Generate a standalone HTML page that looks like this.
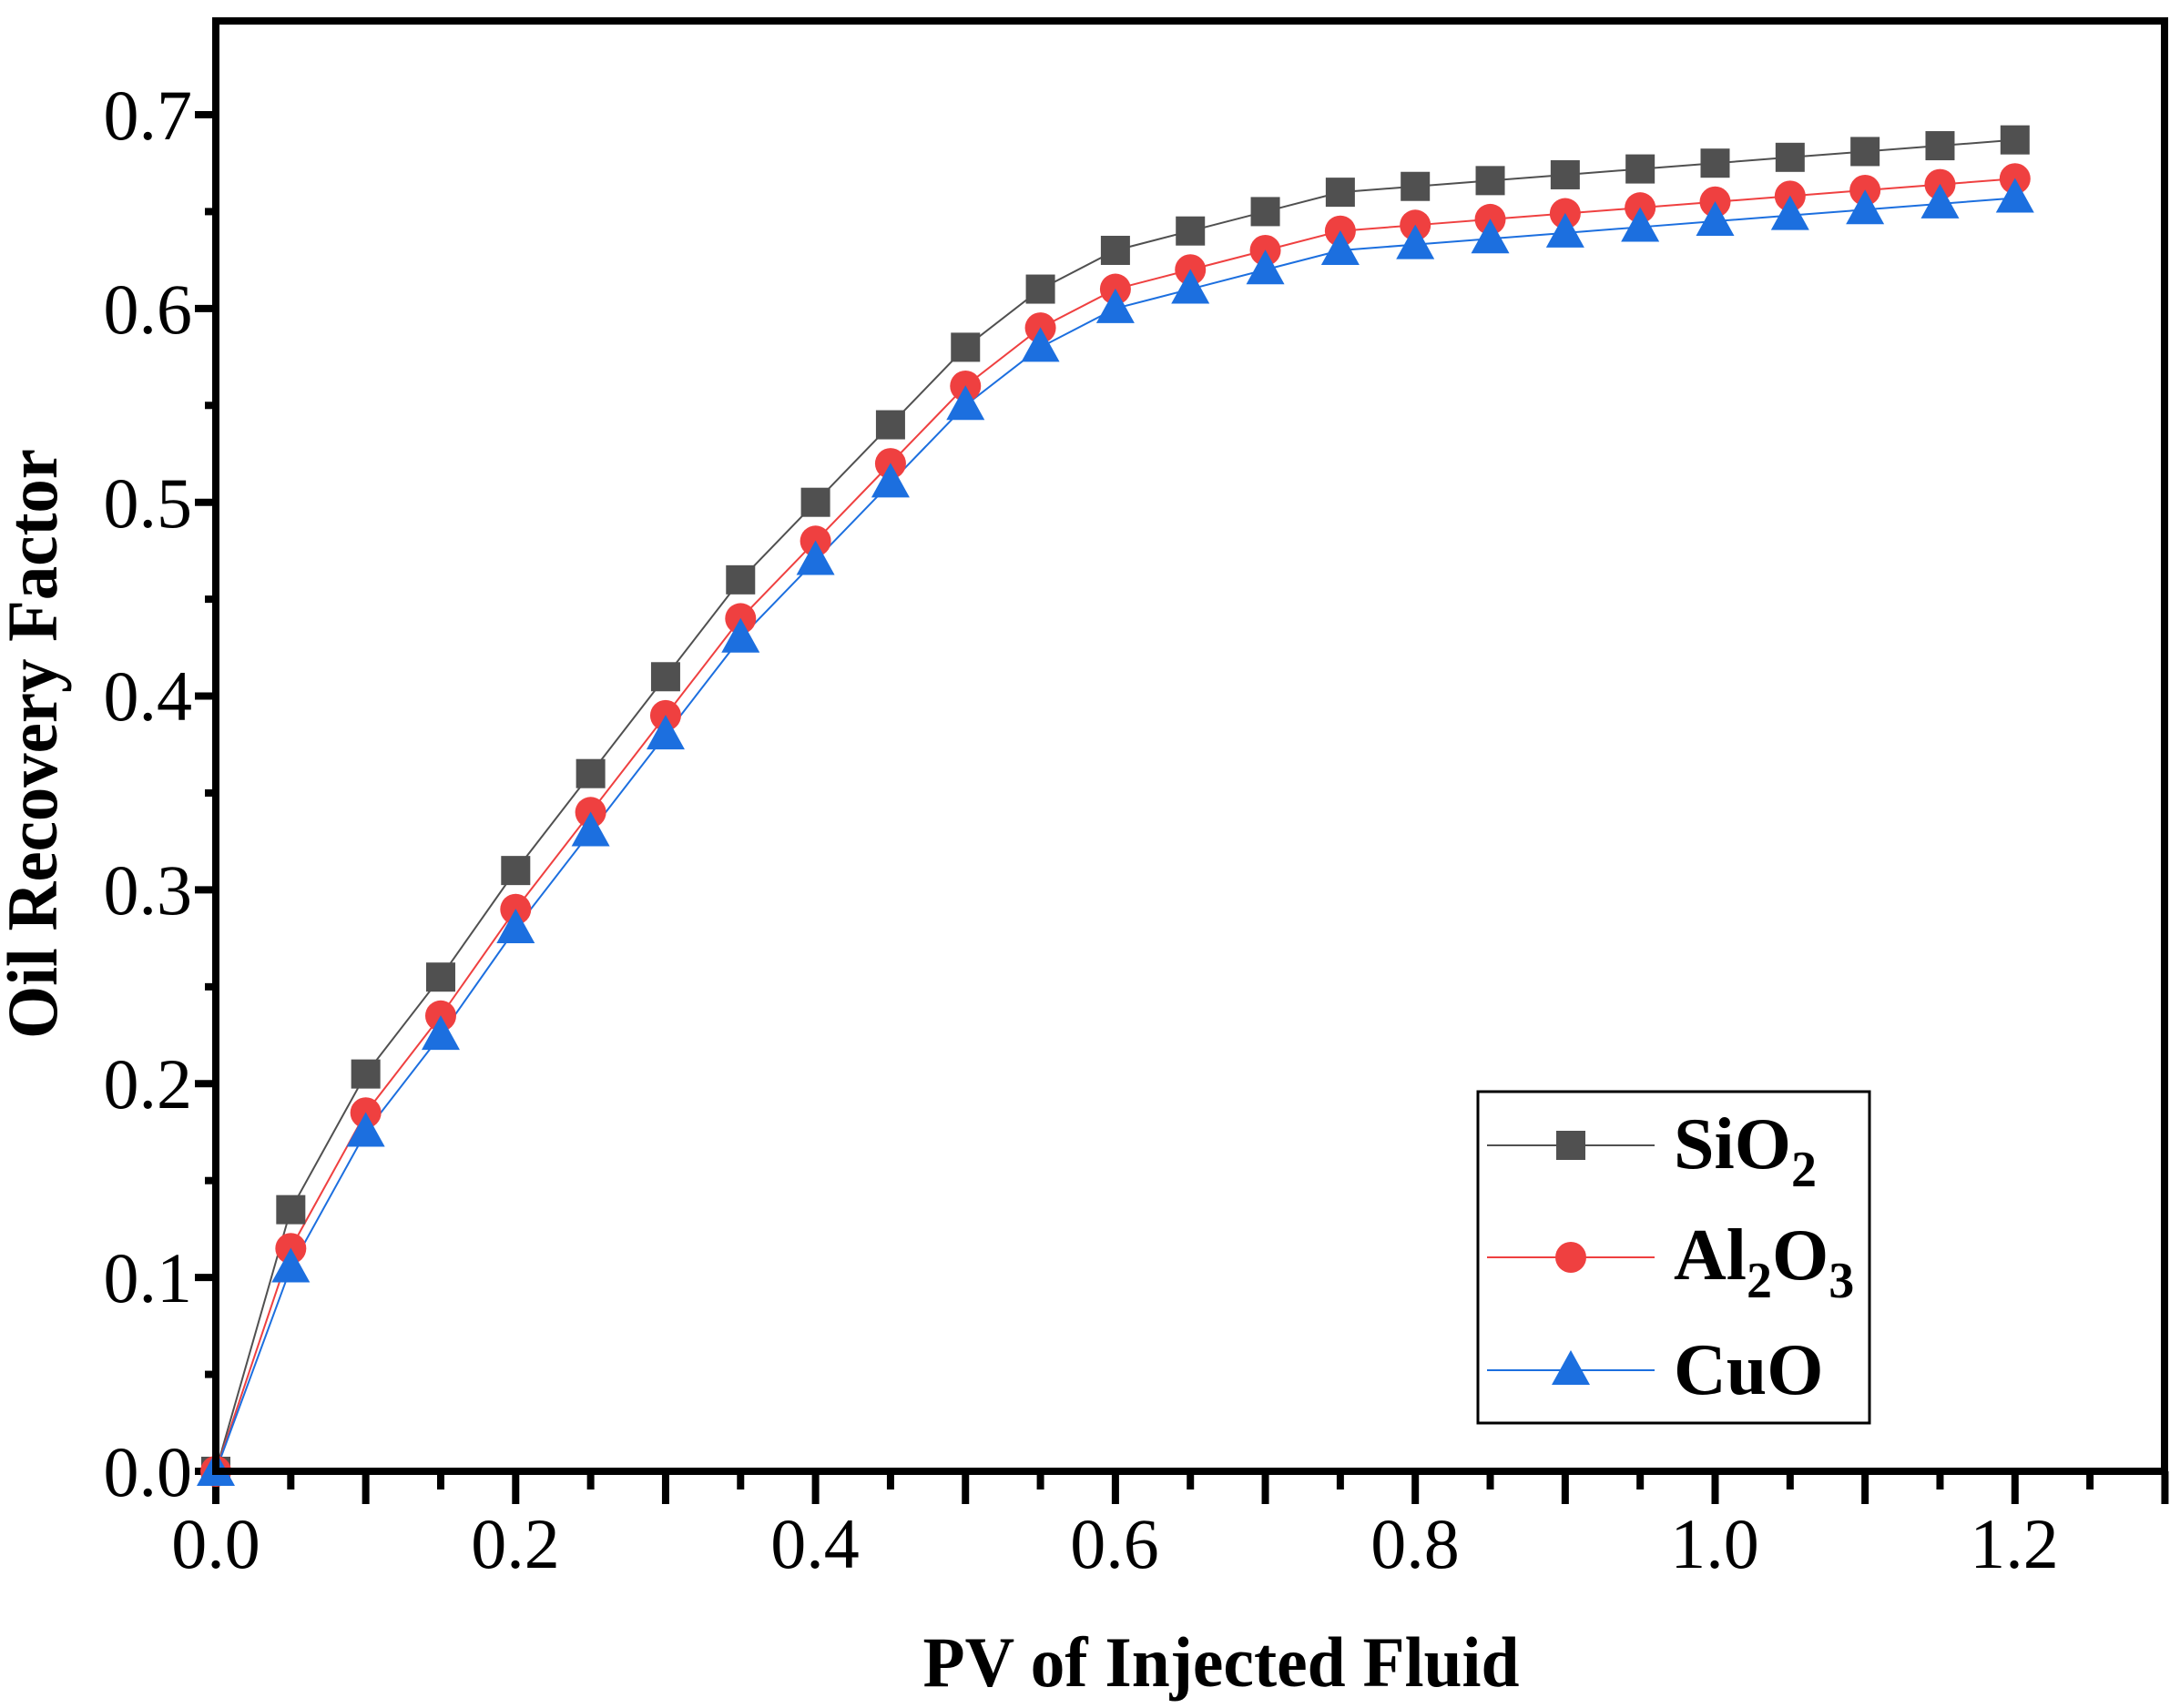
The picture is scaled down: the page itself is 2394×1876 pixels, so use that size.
<!DOCTYPE html>
<html><head><meta charset="utf-8"><style>body{margin:0;background:#fff}svg{display:block}</style></head>
<body>
<svg id="s" width="2394" height="1876" viewBox="0 0 2394 1876" xmlns="http://www.w3.org/2000/svg" font-family="Liberation Serif, serif">
<rect width="2394" height="1876" fill="#fff"/>
<g id="ticks" stroke="#000" stroke-width="8"></g>
<g id="data"></g>
<rect x="237" y="23" width="2140" height="1593" fill="none" stroke="#000" stroke-width="8"/>
<g font-size="78" text-anchor="end">
<text x="211" y="1643">0.0</text><text x="211" y="1430">0.1</text><text x="211" y="1217">0.2</text><text x="211" y="1004">0.3</text><text x="211" y="791">0.4</text><text x="211" y="579">0.5</text><text x="211" y="366">0.6</text><text x="211" y="153">0.7</text>
</g>
<g font-size="78" text-anchor="middle">
<text x="237" y="1722">0.0</text><text x="566" y="1722">0.2</text><text x="895" y="1722">0.4</text><text x="1224" y="1722">0.6</text><text x="1554" y="1722">0.8</text><text x="1883" y="1722">1.0</text><text x="2212" y="1722">1.2</text>
</g>
<text x="1341" y="1852" font-size="78" font-weight="bold" text-anchor="middle" textLength="655" lengthAdjust="spacingAndGlyphs">PV of Injected Fluid</text>
<text transform="translate(62,817) rotate(-90)" font-size="78" font-weight="bold" text-anchor="middle" textLength="648" lengthAdjust="spacingAndGlyphs">Oil Recovery Factor</text>
<rect x="1623" y="1199" width="430" height="364" fill="#fff" stroke="#000" stroke-width="3"/>
<line x1="1633" y1="1258" x2="1817" y2="1258" stroke="#505050" stroke-width="2"/>
<rect x="1709" y="1242" width="32" height="32" fill="#505050"/>
<line x1="1633" y1="1381" x2="1817" y2="1381" stroke="#EF4040" stroke-width="2"/>
<circle cx="1725" cy="1381" r="17" fill="#EF4040"/>
<line x1="1633" y1="1505" x2="1817" y2="1505" stroke="#1C6FDF" stroke-width="2"/>
<polygon points="1725,1483 1746,1521 1704,1521" fill="#1C6FDF"/>
<g font-size="80" font-weight="bold">
<text x="1838" y="1283">SiO<tspan font-size="56" dy="20">2</tspan></text>
<text x="1838" y="1405">Al<tspan font-size="56" dy="20">2</tspan><tspan dy="-20">O</tspan><tspan font-size="56" dy="20">3</tspan></text>
<text x="1838" y="1531">CuO</text>
</g>
</svg>
<script>
var ns="http://www.w3.org/2000/svg";
function X(v){return 237+v*1646.5;}function Y(v){return 1616-v*2128.6;}
function el(p,t,a){var e=document.createElementNS(ns,t);for(var k in a)e.setAttribute(k,a[k]);p.appendChild(e);return e;}
var tk=document.getElementById('ticks');
for(var i=0;i<=14;i++){var y=Y(i*0.05);el(tk,'line',{x1:237,x2:i%2?225:214,y1:y,y2:y});}
for(var i=0;i<=26;i++){var x=X(i*0.05);el(tk,'line',{x1:x,x2:x,y1:1616,y2:i%2?1636:1652});}
var S=[0,.135,.205,.255,.31,.36,.41,.46,.50,.54,.58,.61,.63,.64,.65,.66,.663,.666,.669,.672,.675,.678,.681,.684,.687];
var A=[0,.115,.185,.235,.29,.34,.39,.44,.48,.52,.56,.59,.61,.62,.63,.64,.643,.646,.649,.652,.655,.658,.661,.664,.667];
var C=[0,.105,.175,.225,.28,.33,.38,.43,.47,.51,.55,.58,.60,.61,.62,.63,.633,.636,.639,.642,.645,.648,.651,.654,.657];
var g=document.getElementById('data');
function line(d,c){el(g,'polyline',{points:d.map(function(v,i){return X(i*.05)+','+Y(v)}).join(' '),fill:'none',stroke:c,'stroke-width':2});}
line(S,'#505050');line(A,'#EF4040');line(C,'#1C6FDF');
S.forEach(function(v,i){el(g,'rect',{x:X(i*.05)-16,y:Y(v)-16,width:32,height:32,fill:'#505050'});});
A.forEach(function(v,i){el(g,'circle',{cx:X(i*.05),cy:Y(v),r:17,fill:'#EF4040'});});
C.forEach(function(v,i){var x=X(i*.05),y=Y(v);el(g,'polygon',{points:x+','+(y-22)+' '+(x+21)+','+(y+16)+' '+(x-21)+','+(y+16),fill:'#1C6FDF'});});
</script>
</body></html>
